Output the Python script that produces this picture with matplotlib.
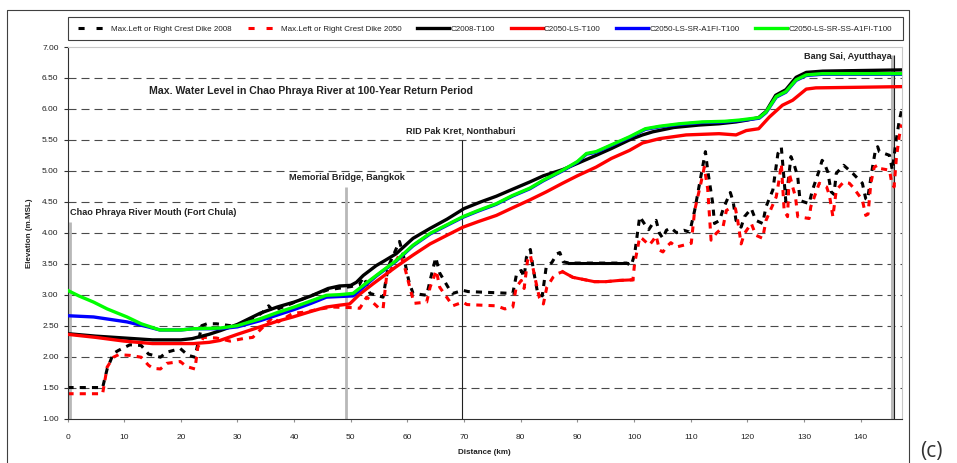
import matplotlib
matplotlib.use("Agg")
import matplotlib.pyplot as plt
from matplotlib.lines import Line2D
from matplotlib.patches import Rectangle
import numpy as np

plt.rcParams['font.family'] = ['Liberation Sans', 'DejaVu Sans']

W, H, DPI = 957, 463, 100

# ---------------- data ----------------
# crest elevation of the dikes (max of left / right bank), m MSL
dike2008_km = [0.0, 6.2, 7.0, 8.1, 9.0, 11.0, 13.0, 14.3, 16.4, 17.5, 19.9, 21.3, 22.5, 23.7,
               24.6, 26.3, 28.7, 31.0, 33.0, 34.5, 35.5, 36.3, 38.0, 42.0, 46.0, 50.0, 51.5,
               52.2, 52.8, 53.4, 55.7, 56.6, 58.6, 59.2, 60.3, 61.0, 63.4, 64.0, 65.0, 65.7,
               67.5, 68.0, 69.8, 70.7, 78.6, 79.3, 80.1, 80.6, 81.0, 81.7, 82.2, 83.0, 83.8,
               84.5, 85.5, 86.4, 86.9, 87.5, 88.6, 98.7, 99.5, 100.1, 101.0, 101.8, 102.6,
               103.3, 103.9, 104.5, 105.1, 105.7, 106.5, 107.5, 108.8, 109.8, 110.1, 110.7,
               112.1, 112.6, 113.0, 113.9, 114.2, 115.1, 115.8, 117.0, 117.5, 118.0, 118.9,
               119.5, 120.7, 121.5, 122.7, 123.3, 124.5, 125.4, 126.0, 126.4, 126.8, 127.3,
               127.7, 128.3, 128.9, 129.3, 130.9, 131.5, 132.7, 133.2, 133.6, 134.2, 134.8,
               135.3, 135.7, 137.0, 138.6, 140.3, 140.9, 141.2, 142.1, 142.6, 143.0, 143.3,
               145.1, 145.6, 146.2, 146.8, 147.2]
dike2008_el = [1.50, 1.50, 1.80, 2.05, 2.10, 2.19, 2.18, 2.04, 1.99, 2.07, 2.13, 2.02, 1.99, 2.50,
               2.53, 2.53, 2.50, 2.53, 2.62, 2.72, 2.82, 2.74, 2.80, 2.95, 3.08, 3.13, 3.16,
               3.28, 3.18, 3.02, 2.96, 3.45, 3.86, 3.67, 3.20, 3.02, 2.99, 3.23, 3.60, 3.35,
               3.07, 3.02, 3.07, 3.05, 3.02, 3.35, 3.39, 3.28, 3.60, 3.73, 3.42, 3.02, 2.98,
               3.45, 3.52, 3.66, 3.68, 3.53, 3.51, 3.51, 3.47, 3.65, 4.26, 4.15, 4.05,
               4.15, 4.20, 3.99, 3.91, 4.04, 4.08, 4.00, 4.04, 4.01, 4.12, 4.36,
               5.06, 5.31, 5.01, 4.47, 4.15, 4.20, 4.40, 4.65, 4.50, 4.20, 4.09,
               4.26, 4.39, 4.20, 4.15, 4.42, 4.69, 5.28, 5.38, 4.95, 4.50, 4.90,
               5.23, 5.09, 4.90, 4.52, 4.47, 4.69, 5.01, 5.17, 5.12, 4.98, 4.66,
               4.62, 4.96, 5.09, 4.96, 4.80, 4.55, 4.53, 5.06, 5.33, 5.39, 5.31,
               5.25, 5.01, 5.45, 5.80, 5.97]

dike2050_km = [0.0, 6.2, 7.0, 8.1, 9.0, 11.0, 13.0, 14.3, 15.1, 16.4, 17.5, 19.9, 21.0, 22.5,
               23.0, 24.0, 26.3, 28.7, 31.0, 32.7, 35.2, 36.3, 37.2, 39.8, 42.2, 44.0, 46.8,
               50.4, 51.6, 52.8, 53.6, 55.0, 55.7, 56.3, 58.7, 59.5, 60.7, 61.2, 63.4, 64.0,
               65.1, 65.7, 68.0, 69.8, 70.5, 75.7, 77.2, 78.6, 79.2, 80.1, 80.6, 81.2, 81.7,
               82.5, 83.3, 84.0, 84.6, 85.7, 86.5, 87.4, 89.2, 93.0, 95.0, 97.4, 99.8, 100.1,
               101.0, 101.5, 102.7, 103.3, 103.9, 104.5, 105.1, 105.7, 106.5, 107.5, 108.8,
               110.1, 110.7, 111.8, 112.4, 113.0, 113.6, 114.5, 115.7, 116.3, 117.0, 117.9,
               118.3, 118.9, 119.5, 120.7, 121.5, 122.7, 123.3, 125.1, 125.6, 126.0, 126.5,
               127.1, 127.4, 128.0, 128.5, 128.9, 130.9, 131.2, 132.7, 134.0, 134.5, 135.1,
               135.7, 137.0, 138.0, 138.6, 140.3, 140.9, 141.3, 141.8, 142.4, 143.0, 143.3,
               145.1, 145.4, 145.9, 146.3, 146.8, 147.2]
dike2050_el = [1.40, 1.40, 1.83, 1.99, 2.03, 2.02, 1.99, 1.86, 1.81, 1.80, 1.89, 1.92, 1.84, 1.80,
               2.15, 2.31, 2.30, 2.25, 2.29, 2.31, 2.54, 2.64, 2.56, 2.70, 2.72, 2.76, 2.80,
               2.79, 2.78, 2.96, 2.90, 2.78, 2.77, 3.28, 3.66, 3.45, 3.02, 2.86, 2.88, 3.12,
               3.39, 3.12, 2.82, 2.88, 2.84, 2.82, 2.77, 2.80, 3.12, 3.23, 3.10, 3.55, 3.64,
               3.28, 2.95, 2.85, 3.12, 3.28, 3.34, 3.37, 3.28, 3.21, 3.21, 3.23, 3.24, 3.50,
               3.93, 3.90, 3.80, 3.87, 3.95, 3.72, 3.69, 3.77, 3.84, 3.77, 3.80,
               3.83, 4.36, 4.80, 5.06, 4.71, 3.88, 3.99, 4.09, 4.36, 4.40, 4.39,
               4.20, 3.82, 3.99, 4.15, 3.96, 3.91, 4.20, 4.58, 4.85, 5.11, 4.36,
               4.26, 4.96, 4.74, 4.58, 4.26, 4.23, 4.42, 4.80, 4.74, 4.60, 4.26,
               4.69, 4.82, 4.80, 4.74, 4.53, 4.28, 4.30, 4.80, 5.06, 5.09, 5.04,
               5.01, 4.85, 4.74, 5.20, 5.55, 5.75]

# stretches where the survey points are dense enough to read as a continuous line
dike2008_solid = (88.6, 98.7)
dike2050_solid = (87.4, 99.8)

# maximum water level, 100-year return period, m MSL
c2008_km = [0, 5, 10, 15, 20, 22, 25, 27, 30, 34, 37, 40, 43, 46, 48, 50, 51, 52.2, 54.5, 56, 58,
            61, 64, 67, 70, 73, 75.7, 78.5, 81.6, 84, 87.4, 90, 93.3, 96, 99.2, 101.5, 103.3,
            107, 111.5, 115, 118, 120, 122, 123.3, 125, 126.8, 128.6, 130.4, 133.3, 140, 147.3]
c2008_wl = [2.37, 2.33, 2.30, 2.27, 2.27, 2.29, 2.36, 2.42, 2.52, 2.70, 2.80, 2.88, 2.98, 3.10,
            3.14, 3.15, 3.20, 3.31, 3.47, 3.55, 3.66, 3.91, 4.07, 4.22, 4.39, 4.50, 4.59, 4.70,
            4.82, 4.92, 5.02, 5.12, 5.25, 5.36, 5.50, 5.58, 5.63, 5.70, 5.74, 5.76, 5.79, 5.82,
            5.86, 5.96, 6.22, 6.31, 6.51, 6.59, 6.61, 6.62, 6.63]

c2050_ls_km = [0, 5, 10, 15, 20, 22.2, 25, 26.9, 30, 34, 37, 39.8, 43, 45.7, 48, 49.8, 51.6, 54,
               58, 61, 64, 67, 69.8, 72.5, 75.7, 78.5, 81.6, 84.5, 87.4, 90, 93.3, 96, 99.2,
               101.5, 104.5, 109.2, 115, 118, 119.8, 122, 123.9, 126.2, 128, 130.4, 132.1, 140,
               147.3]
c2050_ls_wl = [2.36, 2.31, 2.25, 2.21, 2.21, 2.21, 2.23, 2.26, 2.36, 2.48, 2.57, 2.64, 2.73, 2.80,
               2.83, 2.85, 3.01, 3.18, 3.45, 3.64, 3.82, 3.96, 4.09, 4.18, 4.28, 4.40, 4.53,
               4.66, 4.80, 4.92, 5.06, 5.20, 5.33, 5.45, 5.52, 5.58, 5.60, 5.58, 5.65, 5.68,
               5.87, 6.06, 6.14, 6.32, 6.34, 6.35, 6.36]

c2050_sr_km = [0, 4.6, 10.5, 14.2, 16.3, 20, 22.2, 26.9, 30, 34, 37, 40, 43, 45.7, 48, 50.4, 52.2,
               54.5, 58, 61, 64, 67, 69.8, 72.5, 75.7, 78.5, 81.6, 84, 87.4, 90, 91.6, 93.3, 96,
               99.2, 102, 104.5, 108, 112, 116, 118.6, 122.1, 123.3, 125.1, 126.8, 128.6, 130.4,
               133.3, 140, 147.3]
c2050_sr_wl = [2.66, 2.64, 2.56, 2.48, 2.43, 2.43, 2.45, 2.45, 2.48, 2.58, 2.67, 2.76, 2.86, 2.96,
               2.97, 2.98, 3.12, 3.30, 3.54, 3.79, 3.98, 4.12, 4.25, 4.35, 4.46, 4.59, 4.71,
               4.84, 5.00, 5.14, 5.27, 5.30, 5.41, 5.54, 5.67, 5.71, 5.75, 5.78, 5.79, 5.81,
               5.85, 5.94, 6.19, 6.27, 6.46, 6.54, 6.56, 6.56, 6.56]

c2050_ss_km = [0, 2, 4.6, 7, 10.5, 13, 16.3, 20, 22.2, 26.9, 30, 34, 37, 40, 43, 45.7, 48, 50.4,
               52.2, 54.5, 58, 61, 64, 67, 69.8, 72.5, 75.7, 78.5, 81.6, 84, 87.4, 90, 91.6, 93.3,
               96, 99.2, 102, 104.5, 108, 112, 116, 118.6, 122.1, 123.3, 125.1, 126.8, 128.6,
               130.4, 133.3, 140, 147.3]
c2050_ss_wl = [3.07, 2.98, 2.88, 2.77, 2.64, 2.53, 2.43, 2.43, 2.45, 2.46, 2.50, 2.61, 2.71, 2.80,
               2.90, 2.99, 3.00, 3.02, 3.15, 3.31, 3.55, 3.80, 3.99, 4.13, 4.26, 4.36, 4.47,
               4.60, 4.72, 4.85, 5.01, 5.15, 5.28, 5.31, 5.42, 5.55, 5.68, 5.72, 5.76, 5.79,
               5.80, 5.82, 5.86, 5.95, 6.20, 6.28, 6.47, 6.55, 6.57, 6.57, 6.57]

series_labels = ["Max.Left or Right Crest Dike 2008", "Max.Left or Right Crest Dike 2050",
                 "C2008-T100", "C2050-LS-T100", "C2050-LS-SR-A1FI-T100",
                 "C2050-LS-SR-SS-A1FI-T100"]
series_colors = ["#000000", "#ff0000", "#000000", "#ff0000", "#0000ff", "#00ff00"]

# reference stations along the river
site_names = ["Chao Phraya River Mouth (Fort Chula)", "Memorial Bridge, Bangkok",
              "RID Pak Kret, Nonthaburi", "Bang Sai, Ayutthaya"]
site_km = [0.5, 49.1, 69.7, 145.6]
site_line_top = [4.17, 4.74, 5.50, 6.87]
site_label_xy = [(0.5, 4.32), (49.4, 4.90), (69.5, 5.64), (145.5, 6.84)]
site_label_ha = ["left", "center", "center", "right"]

title_text = "Max. Water Level in Chao Phraya River at 100-Year Return Period"
title_xy = (42.9, 6.29)

x_ticks = list(range(0, 150, 10))
y_ticks = [1.0, 1.5, 2.0, 2.5, 3.0, 3.5, 4.0, 4.5, 5.0, 5.5, 6.0, 6.5, 7.0]
x_max = 147.3

# ---------------- figure ----------------
fig = plt.figure(figsize=(W / DPI, H / DPI), dpi=DPI)
fig.patch.set_facecolor("white")

ax = fig.add_axes([67.5 / W, 1 - 418.5 / H, (902 - 67.5) / W, (418.5 - 47) / H])
ax.set_xlim(0, x_max)
ax.set_ylim(y_ticks[0], y_ticks[-1])

# horizontal dashed grid on the interior ticks
ax.hlines(y_ticks[1:-1], 0, 1, transform=ax.get_yaxis_transform(), colors="#4a4a4a",
          linewidth=0.8, linestyles=[(0, (7.2, 4.5))], zorder=1)

# station markers
ax.vlines(site_km[0], y_ticks[0], site_line_top[0], colors="#b8b8b8", linewidth=2.0, zorder=1.5)
ax.vlines(site_km[1], y_ticks[0], site_line_top[1], colors="#b8b8b8", linewidth=2.0, zorder=1.5)
ax.vlines(site_km[2], y_ticks[0], site_line_top[2], colors="#202020", linewidth=0.8, zorder=1.5)
ax.vlines(site_km[3], y_ticks[0], site_line_top[3], colors="#b8b8b8", linewidth=2.2, zorder=1.5)
ax.vlines(site_km[3] + 0.3, y_ticks[0], site_line_top[3], colors="#202020", linewidth=0.8,
          zorder=1.6)

dash_plot = (0, (2.0, 2.0))
lw_dike = 2.2
lw_wl = 2.4


def solid_part(km, el, span):
    km = np.asarray(km)
    el = np.asarray(el)
    m = (km >= span[0]) & (km <= span[1])
    return km[m], el[m]


ax.plot(dike2008_km, dike2008_el, color=series_colors[0], lw=lw_dike, linestyle=dash_plot,
        dash_capstyle="butt", zorder=2)
ax.plot(*solid_part(dike2008_km, dike2008_el, dike2008_solid), color=series_colors[0],
        lw=lw_dike, zorder=2)
ax.plot(dike2050_km, dike2050_el, color=series_colors[1], lw=lw_dike, linestyle=dash_plot,
        dash_capstyle="butt", zorder=2.1)
ax.plot(*solid_part(dike2050_km, dike2050_el, dike2050_solid), color=series_colors[1],
        lw=lw_dike, zorder=2.1)
ax.plot(c2008_km, c2008_wl, color=series_colors[2], lw=lw_wl, zorder=3)
ax.plot(c2050_ls_km, c2050_ls_wl, color=series_colors[3], lw=lw_wl, zorder=3.1)
ax.plot(c2050_sr_km, c2050_sr_wl, color=series_colors[4], lw=lw_wl, zorder=3.2)
ax.plot(c2050_ss_km, c2050_ss_wl, color=series_colors[5], lw=lw_wl, zorder=3.3)

# annotations
for name, (lx, ly), ha in zip(site_names, site_label_xy, site_label_ha):
    ax.text(lx, ly, name, ha=ha, va="center", fontsize=6.6, fontweight="bold", color="#222222")
ax.text(title_xy[0], title_xy[1], title_text, ha="center", va="center", fontsize=7.6,
        fontweight="bold", color="#222222")

# axes styling
for side in ("left", "bottom"):
    ax.spines[side].set_color("#303030")
    ax.spines[side].set_linewidth(0.8)
for side in ("top", "right"):
    ax.spines[side].set_color("#c8c8c8")
    ax.spines[side].set_linewidth(0.8)

ax.set_xticks(x_ticks)
ax.set_xticklabels([str(v) for v in x_ticks])
ax.set_yticks(y_ticks)
ax.set_yticklabels([f"{v:.2f}" for v in y_ticks])
ax.tick_params(axis="y", direction="out", length=3, width=0.8, color="#303030", pad=3.4,
               labelsize=6, labelcolor="#222222")
ax.tick_params(axis="x", direction="out", length=2.5, width=0.8, color="#909090", pad=8.6,
               labelsize=6, labelcolor="#222222")

fig.text(484 / W, 1 - 452 / H, "Distance (km)", ha="center", va="center", fontsize=5.8,
         fontweight="bold", color="#222222")
fig.text(29.5 / W, 1 - 233 / H, "Elevation (m.MSL)", ha="center", va="center", rotation=90,
         fontsize=5.8, fontweight="bold", color="#222222")

# legend
legend_handles = [
    Line2D([], [], color=series_colors[0], lw=lw_dike, linestyle=(0, (2.0, 3.9)),
           dash_capstyle="butt"),
    Line2D([], [], color=series_colors[1], lw=lw_dike, linestyle=(0, (2.0, 3.9)),
           dash_capstyle="butt"),
    Line2D([], [], color=series_colors[2], lw=lw_wl),
    Line2D([], [], color=series_colors[3], lw=lw_wl),
    Line2D([], [], color=series_colors[4], lw=lw_wl),
    Line2D([], [], color=series_colors[5], lw=lw_wl),
]
leg_fs = 5.8
leg = fig.legend(legend_handles, series_labels, loc="center left",
                 bbox_to_anchor=(78 / W, 1 - 29 / H), ncol=6, frameon=False, fontsize=leg_fs,
                 handlelength=32 / (leg_fs * DPI / 72), handletextpad=0.12,
                 columnspacing=16 / (leg_fs * DPI / 72), borderpad=0, borderaxespad=0)
for t in leg.get_texts():
    t.set_color("#222222")
fig.add_artist(Rectangle((68 / W, 1 - 40 / H), (903 - 68) / W, 23 / H, fill=False,
                         ec="#404040", lw=0.8, transform=fig.transFigure))

# outer frame
fig.add_artist(Line2D([7 / W, 7 / W, 909 / W, 909 / W], [0, 1 - 10 / H, 1 - 10 / H, 0],
                      transform=fig.transFigure, color="#404040", lw=0.8))

fig.text(920 / W, 1.5 / H, "(c)", ha="left", va="bottom", fontsize=15,
         family=["Open Sans", "DejaVu Sans"], color="#333333")

fig.savefig("out.png", dpi=DPI)
